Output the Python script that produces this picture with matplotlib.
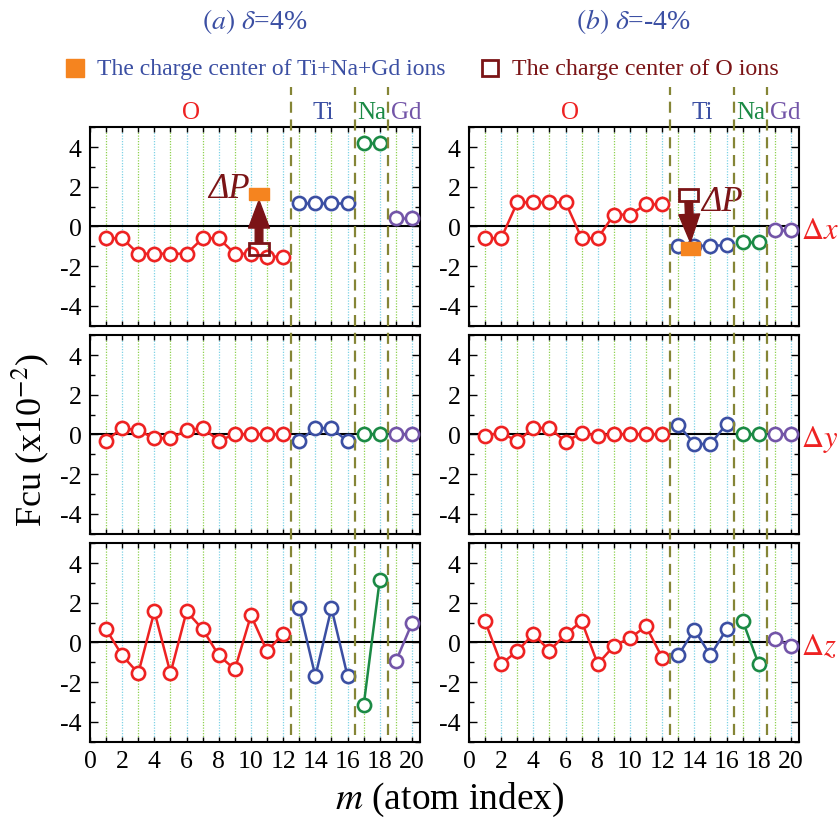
import matplotlib
matplotlib.use('Agg')
import matplotlib.pyplot as plt
import matplotlib.transforms as mtransforms
from matplotlib.lines import Line2D
from matplotlib.patches import Rectangle, FancyArrowPatch
from matplotlib.ticker import MultipleLocator

plt.rcParams['font.family'] = ['Liberation Serif', 'DejaVu Sans']
plt.rcParams['mathtext.fontset'] = 'stix'

# atom index and ion groups
m = list(range(1, 21))
groups = [('O', 0, 12), ('Ti', 12, 16), ('Na', 16, 18), ('Gd', 18, 20)]
group_colors = {'O': '#ee2222', 'Ti': '#3b4fa3', 'Na': '#1b8a45', 'Gd': '#7355a8'}
group_label_x = {'O': 6.3, 'Ti': 14.5, 'Na': 17.5, 'Gd': 19.65}

# (a) delta = 4%
dx_a = [-0.6, -0.6, -1.38, -1.38, -1.38, -1.38, -0.6, -0.6, -1.38, -1.38, -1.53, -1.53,
        1.16, 1.16, 1.16, 1.16, 4.2, 4.2, 0.42, 0.42]
dy_a = [-0.32, 0.32, 0.2, -0.2, -0.2, 0.2, 0.32, -0.32, 0, 0, 0, 0,
        -0.34, 0.32, 0.3, -0.34, 0, 0, 0, 0]
dz_a = [0.66, -0.66, -1.56, 1.56, -1.56, 1.56, 0.66, -0.66, -1.36, 1.36, -0.45, 0.44,
        1.73, -1.71, 1.73, -1.71, -3.18, 3.16, -0.96, 0.96]
# (b) delta = -4%
dx_b = [-0.6, -0.6, 1.21, 1.21, 1.21, 1.21, -0.6, -0.6, 0.59, 0.59, 1.11, 1.11,
        -0.98, -0.98, -0.98, -0.95, -0.79, -0.79, -0.19, -0.19]
dy_b = [-0.07, 0.08, -0.35, 0.32, 0.32, -0.37, 0.07, -0.07, 0, 0, 0, 0,
        0.49, -0.49, -0.49, 0.52, 0, 0, 0, 0]
dz_b = [1.06, -1.09, -0.44, 0.42, -0.42, 0.40, 1.06, -1.09, -0.18, 0.22, 0.81, -0.77,
        -0.66, 0.64, -0.66, 0.67, 1.09, -1.11, 0.15, -0.17]

# charge centres (x, y): cations and O anions, for panels (a) and (b)
cation_a = (10.5, 1.63)
anion_a = (10.5, -1.13)
cation_b = (13.75, -1.11)
anion_b = (13.65, 1.58)

boundaries = [12.5, 16.45, 18.5]
dash_col = '#858536'
arrow_col = '#7b1416'
orange = '#f5841f'
blue_txt = '#3b4fa3'

fig = plt.figure(figsize=(8.4, 8.28), dpi=100)
W, H = 840.0, 828.0
lefts = [90 / W, 469 / W]
width = 330 / W
tops = [128.2, 336.2, 544.2]
height = 198.3 / H

data = [[dx_a, dx_b], [dy_a, dy_b], [dz_a, dz_b]]
row_names = [r'$\Delta x$', r'$\Delta y$', r'$\Delta z$']
axes = [[None, None] for _ in range(3)]

for r in range(3):
    for c in range(2):
        ax = fig.add_axes([lefts[c], 1 - (tops[r] + 198.3) / H, width, height])
        axes[r][c] = ax
        ax.set_xlim(0, 20.5)
        ax.set_ylim(-5, 5)
        for k in m:
            col = '#8fd14f' if k % 2 == 1 else '#7fd3e6'
            ax.axvline(k, color=col, lw=0.9, ls=(0, (1, 1.2)), zorder=0)
        ax.axhline(0, color='black', lw=1.5, zorder=1)
        vals = data[r][c]
        for name, i0, i1 in groups:
            ax.plot(m[i0:i1], vals[i0:i1], '-o', color=group_colors[name], lw=1.8,
                    ms=9.5, mew=1.9, mfc='white', mec=group_colors[name], zorder=3,
                    clip_on=False)
        ax.xaxis.set_major_locator(MultipleLocator(2))
        ax.xaxis.set_minor_locator(MultipleLocator(1))
        ax.yaxis.set_major_locator(MultipleLocator(2))
        ax.yaxis.set_minor_locator(MultipleLocator(1))
        ax.tick_params(which='both', direction='in', top=True, right=True,
                       labelsize=18.5)
        ax.tick_params(which='major', length=6, width=1)
        ax.tick_params(which='minor', length=3.5, width=1)
        ax.tick_params(axis='x', which='major', length=3.5)
        ax.tick_params(axis='y', pad=6)
        ax.tick_params(axis='x', pad=6)
        if r < 2:
            ax.tick_params(labelbottom=False)
        ax.set_yticks([-4, -2, 0, 2, 4])
        ax.set_yticklabels(['-4', '-2', '0', '2', '4'])
        for s in ax.spines.values():
            s.set_linewidth(1.5)
        if c == 1:
            ax.text(20.65, -0.2, row_names[r], color='#ee2222', fontsize=22,
                    ha='left', va='center', clip_on=False)

# dashed boundaries through all rows and above
for c in range(2):
    tr = mtransforms.blended_transform_factory(axes[0][c].transData, fig.transFigure)
    for b in boundaries:
        fig.add_artist(Line2D([b, b], [1 - 736 / H, 1 - 88 / H], transform=tr,
                              color=dash_col, lw=1.6, ls=(0, (5, 3))))
    for name, i0, i1 in groups:
        axes[0][c].text(group_label_x[name], 5.2, name, color=group_colors[name],
                        fontsize=18, ha='center', va='bottom')


def charge_centre(ax, cat, an):
    w, h = 1.2, 0.63
    sgn = 1 if cat[1] > an[1] else -1
    arr = FancyArrowPatch((an[0], an[1] + sgn * h / 2), (cat[0], cat[1] - sgn * h / 2),
                          arrowstyle='simple,head_width=1.5,head_length=2.0,tail_width=0.55',
                          mutation_scale=10, color=arrow_col, shrinkA=0, shrinkB=0,
                          zorder=5)
    ax.add_patch(arr)
    ax.add_patch(Rectangle((cat[0] - w / 2, cat[1] - h / 2), w, h, facecolor=orange,
                           edgecolor=orange, zorder=6))
    ax.add_patch(Rectangle((an[0] - w / 2, an[1] - h / 2), w, h, facecolor='none',
                           edgecolor=arrow_col, lw=2, zorder=6))


charge_centre(axes[0][0], cation_a, anion_a)
charge_centre(axes[0][1], cation_b, anion_b)
axes[0][0].text(9.9, 1.9, 'ΔP', color=arrow_col, fontsize=25, style='italic',
                ha='right', va='center', zorder=7)
axes[0][1].text(14.4, 1.25, 'ΔP', color=arrow_col, fontsize=25, style='italic',
                ha='left', va='center', zorder=7)

# titles
fig.text(255 / W, 1 - 22 / H, r'$(a)\ \delta$=4%', color=blue_txt, fontsize=20,
         ha='center', va='center')
fig.text(633 / W, 1 - 22 / H, r'$(b)\ \delta$=-4%', color=blue_txt, fontsize=20,
         ha='center', va='center')

# legend
fig.add_artist(Line2D([75 / W], [1 - 69 / H], marker='s', ms=13, color=orange,
                      mec=orange, ls='none'))
fig.text(97 / W, 1 - 69 / H, 'The charge center of Ti+Na+Gd ions', color=blue_txt,
         fontsize=17, ha='left', va='center')
fig.add_artist(Line2D([490 / W], [1 - 69 / H], marker='s', ms=11, mfc='none',
                      mec=arrow_col, mew=2, ls='none'))
fig.text(512 / W, 1 - 69 / H, 'The charge center of O ions', color=arrow_col,
         fontsize=17.3, ha='left', va='center')

fig.text(30 / W, 1 - 440 / H, r'Fcu (x10$^{-2}$)', fontsize=26, rotation=90,
         ha='center', va='center')
fig.text(450 / W, 1 - 800 / H, r'$m$ (atom index)', fontsize=27, ha='center',
         va='center')

fig.savefig('out.png', dpi=100)
